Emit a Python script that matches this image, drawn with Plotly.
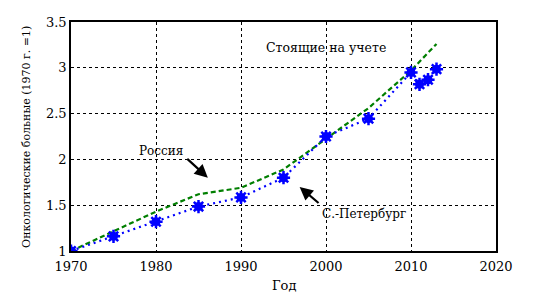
import plotly.graph_objects as go

years_spb = [1970, 1975, 1980, 1985, 1990, 1995, 2000, 2005, 2010, 2011, 2012, 2013]
spb = [1.0, 1.16, 1.32, 1.485, 1.585, 1.80, 2.25, 2.445, 2.95, 2.82, 2.87, 2.985]

years_ru = [1970, 1975, 1980, 1985, 1990, 1995, 2000, 2005, 2010, 2011, 2012, 2013]
russia = [1.0, 1.215, 1.43, 1.62, 1.69, 1.89, 2.22, 2.56, 2.97, 3.07, 3.17, 3.26]

x_ticks = [1970, 1980, 1990, 2000, 2010, 2020]
y_ticks = [1, 1.5, 2, 2.5, 3, 3.5]
y_tick_labels = ["1", "1.5", "2", "2.5", "3", "3.5"]

font = "DejaVu Serif"

fig = go.Figure()
fig.add_trace(go.Scatter(x=years_ru, y=russia, mode="lines",
                         line=dict(color="#007f00", width=2.2, dash="5px,3px"),
                         showlegend=False))
fig.add_trace(go.Scatter(x=years_spb, y=spb, mode="lines",
                         line=dict(color="#0000ff", width=2.2, dash="2px,4px"),
                         showlegend=False))
fig.add_trace(go.Scatter(x=years_spb, y=spb, mode="markers",
                         marker=dict(symbol="circle", size=9, color="#0000ff"),
                         showlegend=False))
fig.add_trace(go.Scatter(x=years_spb, y=spb, mode="markers",
                         marker=dict(symbol="asterisk-open", size=11, color="#0000ff",
                                     line=dict(color="#0000ff", width=2.5)),
                         showlegend=False))

annots = [
    dict(x=2000, y=3.22, text="Стоящие на учете", showarrow=False,
         font=dict(family=font, size=12.5, color="black")),
    dict(x=1980.6, y=2.09, text="Россия", showarrow=False,
         font=dict(family=font, size=12, color="black")),
    dict(x=1986.1, y=1.80, ax=1983.5, ay=2.02, axref="x", ayref="y",
         text="", showarrow=True, arrowhead=2, arrowsize=1.2, arrowwidth=2.2,
         arrowcolor="black"),
    dict(x=2004.5, y=1.40, text="С.-Петербург", showarrow=False,
         font=dict(family=font, size=12, color="black")),
    dict(x=1996.9, y=1.70, ax=1999.3, ay=1.51, axref="x", ayref="y",
         text="", showarrow=True, arrowhead=2, arrowsize=1.2, arrowwidth=2.2,
         arrowcolor="black"),
    dict(x=0.5, y=-0.11, xref="paper", yref="paper", yanchor="top",
         text="Год", showarrow=False,
         font=dict(family=font, size=13, color="black")),
    dict(x=-0.125, y=0.5, xref="paper", yref="paper", textangle=-90,
         text="Онкологические больные (1970 г. =1)", showarrow=False,
         font=dict(family=font, size=11, color="black")),
]

fig.update_layout(
    width=541, height=285,
    margin=dict(l=63, r=53, t=14, b=42, autoexpand=False),
    paper_bgcolor="white", plot_bgcolor="white",
    font=dict(family=font, size=13, color="black"),
    annotations=annots,
    xaxis=dict(range=[1970, 2020], tickvals=x_ticks, showgrid=True,
               gridcolor="black", griddash="dot", gridwidth=1,
               showline=True, linecolor="black", linewidth=1.5, mirror=True,
               zeroline=False, ticks="", automargin=False, ticklabelstandoff=3,
               tickfont=dict(family=font, size=13)),
    yaxis=dict(range=[1, 3.5], tickvals=y_ticks, ticktext=y_tick_labels,
               showgrid=True, gridcolor="black", griddash="dot", gridwidth=1,
               showline=True, linecolor="black", linewidth=1.5, mirror=True,
               zeroline=False, ticks="", automargin=False,
               tickfont=dict(family=font, size=13)),
)

fig.write_html("out.html")
